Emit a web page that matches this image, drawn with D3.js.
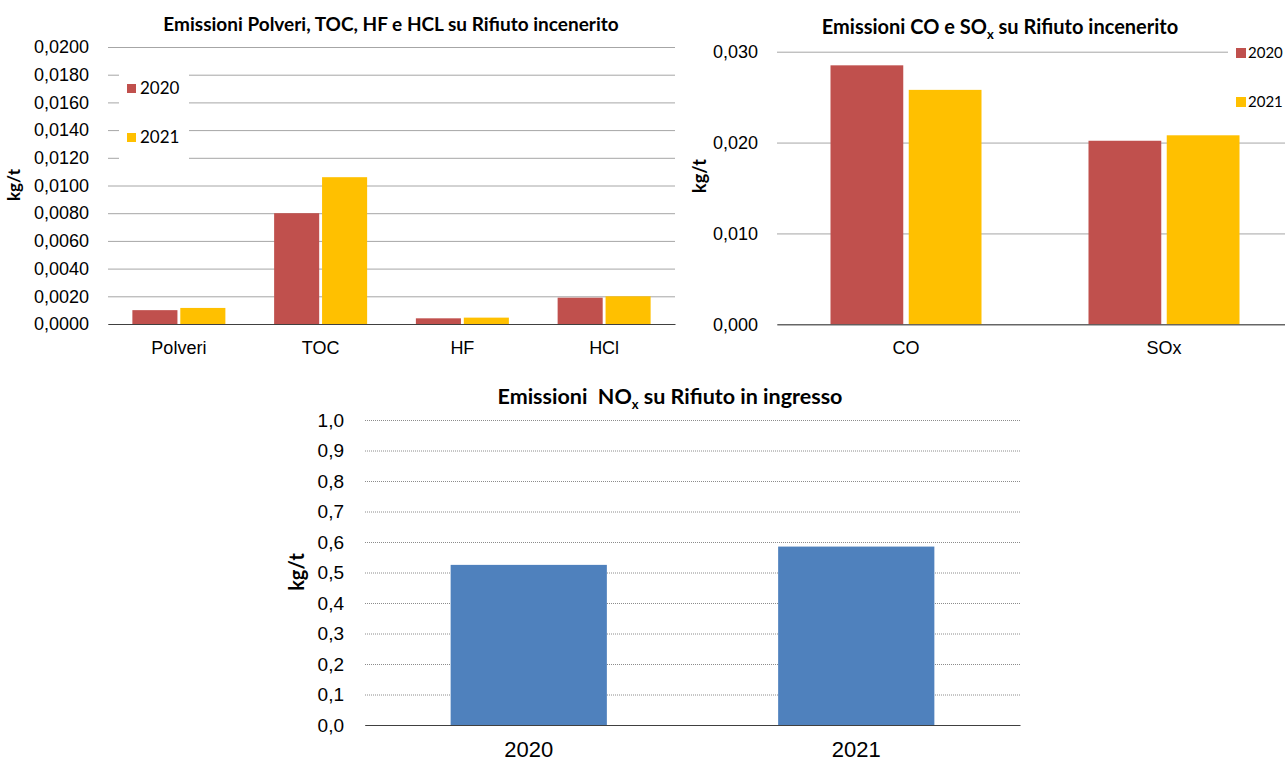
<!DOCTYPE html>
<html><head><meta charset="utf-8">
<script src="https://cdn.jsdelivr.net/npm/d3@7"></script>
<style>
body{margin:0;background:#fff;}
svg{display:block;font-family:Lato,"Open Sans",sans-serif;}
</style></head><body>
<svg id="c" width="1285" height="764"></svg>
<script>
// ---- data ----
const years = ["2020", "2021"];
const colors = ["#c0504d", "#ffc000"];
const cat1 = ["Polveri", "TOC", "HF", "HCl"];
const v1_2020 = [0.0010, 0.0080, 0.00041, 0.0019];
const v1_2021 = [0.00116, 0.0106, 0.00046, 0.0020];
const ticks1 = [0, 0.002, 0.004, 0.006, 0.008, 0.010, 0.012, 0.014, 0.016, 0.018, 0.020];
const cat2 = ["CO", "SOx"];
const v2_2020 = [0.0285, 0.0202];
const v2_2021 = [0.0258, 0.0208];
const ticks2 = [0, 0.010, 0.020, 0.030];
const cat3 = ["2020", "2021"];
const v3 = [0.525, 0.585];
const ticks3 = [0, 0.1, 0.2, 0.3, 0.4, 0.5, 0.6, 0.7, 0.8, 0.9, 1.0];

const svg = d3.select("#c");
const comma = (d, n) => d.toFixed(n).replace(".", ",");

function drawGrouped(g, o) {
  const x0 = d3.scaleBand().domain(o.cats).range([o.x0, o.x1]);
  const y = d3.scaleLinear().domain([0, o.max]).range([o.yb, o.yt]);
  const x1 = d3.scaleBand().domain(years).range([0, o.groupW]).paddingInner(o.gap);
  const ax = g.append("g").attr("transform", `translate(${o.x0},0)`)
    .call(d3.axisLeft(y).tickValues(o.ticks).tickSize(-(o.x1 - o.x0)).tickPadding(o.pad)
      .tickFormat(d => comma(d, o.dec)));
  ax.select(".domain").remove();
  ax.selectAll(".tick line").attr("stroke", "#a6a6a6").attr("stroke-width", 1);
  ax.selectAll(".tick text").attr("font-size", o.fs).attr("fill", "#000");
  const series = [o.a, o.b];
  years.forEach((yr, si) => {
    g.selectAll(null).data(o.cats).enter().append("rect")
      .attr("x", c => x0(c) + (x0.bandwidth() - o.groupW) / 2 + x1(yr))
      .attr("width", x1.bandwidth())
      .attr("y", (c, i) => y(series[si][i]))
      .attr("height", (c, i) => y(0) - y(series[si][i]))
      .attr("fill", colors[si]);
  });
  const bx = g.append("g").attr("transform", `translate(0,${y(0)})`)
    .call(d3.axisBottom(x0).tickSize(0).tickPadding(o.xpad));
  bx.select(".domain").attr("stroke", "#404040");
  bx.selectAll(".tick text").attr("font-size", o.fs).attr("fill", "#000");
  return {x0, y};
}

// ---- chart 1 ----
const g1 = svg.append("g");
drawGrouped(g1, {cats: cat1, a: v1_2020, b: v1_2021, x0: 108, x1: 675, yb: 324, yt: 47,
  max: 0.02, ticks: ticks1, dec: 4, groupW: 93, gap: 0.06, fs: 18, pad: 19, xpad: 17});
g1.append("rect").attr("x", 119).attr("y", 66).attr("width", 70).attr("height", 98).attr("fill", "#fff");
years.forEach((yr, i) => {
  g1.append("rect").attr("x", 127).attr("y", 84 + i * 49).attr("width", 9).attr("height", 9).attr("fill", colors[i]);
  g1.append("text").attr("x", 140).attr("y", 94 + i * 49).attr("font-size", 17).text(yr);
});
g1.append("text").attr("x", 391).attr("y", 31).attr("text-anchor", "middle").attr("font-size", 19)
  .attr("font-weight", "bold").text("Emissioni Polveri, TOC, HF e HCL su Rifiuto incenerito");
g1.append("text").attr("transform", "translate(20,185) rotate(-90)").attr("text-anchor", "middle")
  .attr("font-size", 17).attr("font-weight", "bold").text("kg/t");

// ---- chart 2 ----
const g2 = svg.append("g");
drawGrouped(g2, {cats: cat2, a: v2_2020, b: v2_2021, x0: 777, x1: 1293, yb: 324.3, yt: 51.7,
  max: 0.03, ticks: ticks2, dec: 3, groupW: 151, gap: 0.07, fs: 18, pad: 19, xpad: 17});
g2.append("rect").attr("x", 1228).attr("y", 40).attr("width", 60).attr("height", 75).attr("fill", "#fff");
years.forEach((yr, i) => {
  g2.append("rect").attr("x", 1236).attr("y", 48 + i * 49).attr("width", 10).attr("height", 10).attr("fill", colors[i]);
  g2.append("text").attr("x", 1248).attr("y", 58 + i * 49).attr("font-size", 15).text(yr);
});
const t2 = g2.append("text").attr("x", 1000).attr("y", 34).attr("text-anchor", "middle").attr("font-size", 20)
  .attr("font-weight", "bold");
t2.append("tspan").text("Emissioni CO e SO");
t2.append("tspan").attr("font-size", 13).attr("dy", 5).text("x");
t2.append("tspan").attr("dy", -5).text(" su Rifiuto incenerito");
g2.append("text").attr("transform", "translate(706,176) rotate(-90)").attr("text-anchor", "middle")
  .attr("font-size", 18).attr("font-weight", "bold").text("kg/t");

// ---- chart 3 ----
const g3 = svg.append("g");
const xb = d3.scaleBand().domain(cat3).range([365, 1020]);
const y3 = d3.scaleLinear().domain([0, 1]).range([725, 420]);
const ax3 = g3.append("g").attr("transform", "translate(365,0)")
  .call(d3.axisLeft(y3).tickValues(ticks3).tickSize(-(1020 - 365)).tickPadding(21).tickFormat(d => comma(d, 1)));
ax3.select(".domain").remove();
ax3.selectAll(".tick line").attr("stroke", "#8c8c8c").attr("stroke-dasharray", "1,1");
ax3.selectAll(".tick text").attr("font-size", 19).attr("fill", "#000");
const bw3 = xb.bandwidth() * 0.477;
g3.selectAll(null).data(cat3).enter().append("rect")
  .attr("x", c => xb(c) + (xb.bandwidth() - bw3) / 2).attr("width", bw3)
  .attr("y", (c, i) => y3(v3[i])).attr("height", (c, i) => y3(0) - y3(v3[i]))
  .attr("fill", "#4f81bd");
const bx3 = g3.append("g").attr("transform", "translate(0,725)").call(d3.axisBottom(xb).tickSize(0).tickPadding(16));
bx3.select(".domain").attr("stroke", "#404040");
bx3.selectAll(".tick text").attr("font-size", 22).attr("fill", "#000");
const t3 = g3.append("text").attr("x", 670).attr("y", 404).attr("text-anchor", "middle").attr("font-size", 21.5)
  .attr("font-weight", "bold").style("white-space", "pre");
t3.append("tspan").text("Emissioni  NO");
t3.append("tspan").attr("font-size", 13).attr("dy", 5).text("x");
t3.append("tspan").attr("dy", -5).text(" su Rifiuto in ingresso");
g3.append("text").attr("transform", "translate(304,572) rotate(-90)").attr("text-anchor", "middle")
  .attr("font-size", 20).attr("font-weight", "bold").text("kg/t");
</script></body></html>
